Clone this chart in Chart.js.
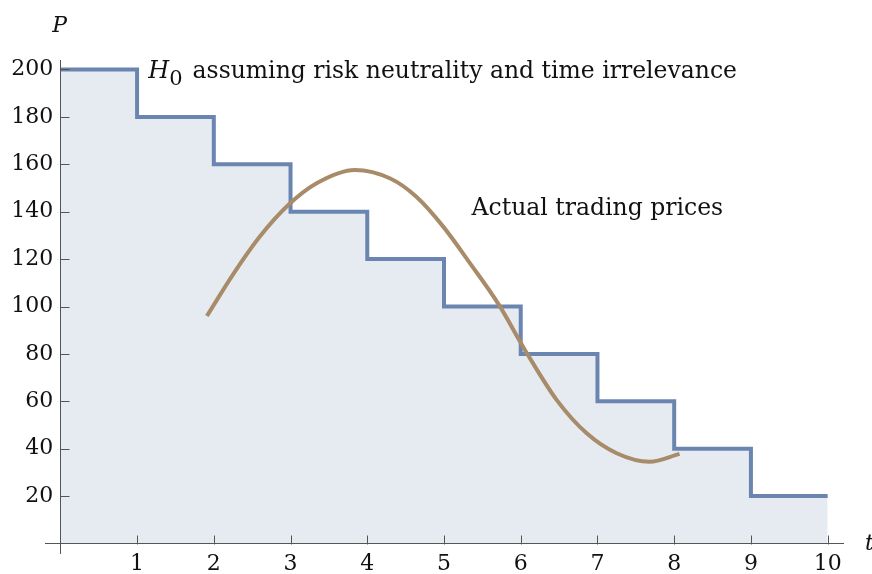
<!DOCTYPE html>
<html>
<head>
<meta charset="utf-8">
<script src="https://cdn.jsdelivr.net/npm/chart.js@4"></script>
<style>
  html, body { margin: 0; padding: 0; background: #fff; }
  #wrap { width: 872px; height: 574px; }
</style>
</head>
<body>
<div id="wrap"><canvas id="chart"></canvas></div>
<script>
// H0 step path: price at each whole time step
const stepT = [0, 1, 2, 3, 4, 5, 6, 7, 8, 9, 10];
const stepP = [200, 180, 160, 140, 120, 100, 80, 60, 40, 20, 20];

// actual trading prices
const tradeT = [1.91, 2.26, 2.6, 2.97, 3.34, 3.84, 4.3, 4.64, 4.99, 5.34, 5.71, 6.08, 6.47, 6.86, 7.25, 7.68, 8.07];
const tradeP = [96, 114, 129.5, 142.8, 152, 157.6, 154, 146.3, 133.7, 118.2, 101, 80.3, 60.5, 46.5, 38.1, 34.5, 37.8];

const xTicks = [1, 2, 3, 4, 5, 6, 7, 8, 9, 10];
const yTicks = [20, 40, 60, 80, 100, 120, 140, 160, 180, 200];

const serif = "'DejaVu Serif', serif";
const axisGray = '#555';

// Mathematica style ticks point into the plot, drawn over the fill
const innerTicks = {
  id: 'innerTicks',
  afterDatasetsDraw(chart) {
    const c = chart.ctx;
    const xs = chart.scales.x, ys = chart.scales.y;
    const x0 = Math.round(xs.getPixelForValue(0)) + 0.5;
    const y0 = Math.round(ys.getPixelForValue(0)) + 0.5;
    c.save();
    c.strokeStyle = axisGray;
    c.lineWidth = 1;
    c.beginPath();
    xs.ticks.forEach(t => {
      const px = Math.round(xs.getPixelForValue(t.value)) + 0.5;
      c.moveTo(px, y0);
      c.lineTo(px, y0 - 9);
    });
    ys.ticks.forEach(t => {
      const py = Math.round(ys.getPixelForValue(t.value)) + 0.5;
      c.moveTo(x0, py);
      c.lineTo(x0 + 9, py);
    });
    c.stroke();
    c.restore();
  }
};

const labels = {
  id: 'labels',
  afterDraw(chart) {
    const c = chart.ctx;
    const xs = chart.scales.x, ys = chart.scales.y;
    c.save();
    c.fillStyle = '#111';
    c.textBaseline = 'alphabetic';
    c.textAlign = 'left';

    // axis names
    c.font = 'italic 22px ' + serif;
    c.fillText('P', xs.getPixelForValue(0) - 8, chart.chartArea.top - 28);
    c.fillText('t', chart.chartArea.right + 22, ys.getPixelForValue(0) + 6);

    // H0 label
    let x = xs.getPixelForValue(1.146);
    let y = ys.getPixelForValue(196.6);
    c.font = 'italic 24px ' + serif;
    c.fillText('H', x, y);
    x += c.measureText('H').width;
    c.font = '21px ' + serif;
    c.fillText('0', x, y + 7);
    x += c.measureText('0').width + 10;
    c.font = '23.5px ' + serif;
    c.fillText('assuming risk neutrality and time irrelevance', x, y);

    c.fillText('Actual trading prices', xs.getPixelForValue(5.36), ys.getPixelForValue(138.6));
    c.restore();
  }
};

new Chart(document.getElementById('chart'), {
  type: 'scatter',
  data: {
    datasets: [
      {
        label: 'H0',
        data: stepT.map((t, i) => ({ x: t, y: stepP[i] })),
        showLine: true,
        stepped: 'before',
        borderColor: '#6a86b0',
        borderWidth: 4,
        backgroundColor: '#e6ebf2',
        fill: { value: 0 },
        pointRadius: 0,
        order: 2
      },
      {
        label: 'Actual trading prices',
        data: tradeT.map((t, i) => ({ x: t, y: tradeP[i] })),
        showLine: true,
        borderColor: '#a88b69',
        borderWidth: 4,
        cubicInterpolationMode: 'monotone',
        pointRadius: 0,
        fill: false,
        order: 1
      }
    ]
  },
  options: {
    responsive: true,
    maintainAspectRatio: false,
    animation: false,
    layout: { padding: { left: 45, right: 29, top: 60, bottom: 21 } },
    plugins: {
      legend: { display: false },
      tooltip: { enabled: false }
    },
    scales: {
      x: {
        type: 'linear',
        min: -0.2,
        max: 10.2,
        position: { y: 0 },
        afterFit: s => { s.height = 0; },
        afterBuildTicks: s => { s.ticks = xTicks.map(v => ({ value: v })); },
        ticks: { color: '#111', font: { family: serif, size: 22 }, padding: 8, maxRotation: 0 },
        grid: { drawOnChartArea: false, drawTicks: false },
        border: { color: axisGray, width: 1, z: 1 }
      },
      y: {
        type: 'linear',
        min: -4,
        max: 204,
        position: { x: 0 },
        afterFit: s => { s.width = 0; },
        afterBuildTicks: s => { s.ticks = yTicks.map(v => ({ value: v })); },
        ticks: { color: '#111', font: { family: serif, size: 22 }, callback: v => v + ' ' },
        grid: { drawOnChartArea: false, drawTicks: false },
        border: { color: axisGray, width: 1, z: 1 }
      }
    }
  },
  plugins: [innerTicks, labels]
});
</script>
</body>
</html>
